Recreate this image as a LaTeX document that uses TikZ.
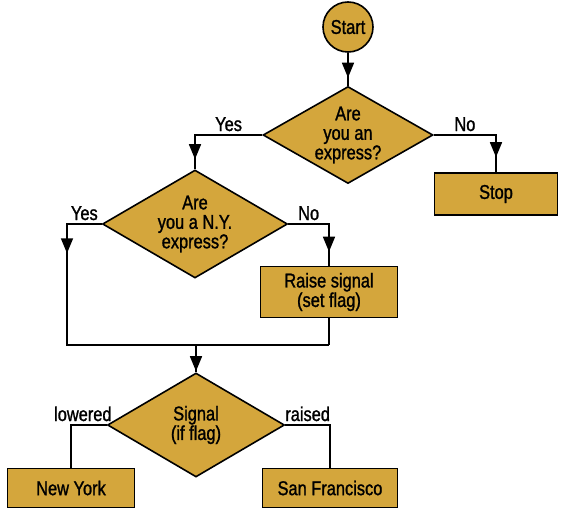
\documentclass[tikz,border=0pt]{standalone}
\usepackage{fontspec}
\setmainfont{Liberation Sans}[FakeStretch=0.82, FakeBold=1.2]
\usetikzlibrary{arrows.meta}
\usetikzlibrary{decorations.markings}
\usetikzlibrary{shapes.geometric}
\definecolor{mgold}{RGB}{212, 166, 60}
\tikzset{box/.style = {draw, fill=mgold, line width=1.6pt, inner sep=0, align=center,
    font=\fontsize{20}{19.5}\selectfont}}
\tikzset{decision/.style = {box, diamond, aspect=1.75}}
\tikzset{flow/.style = {line width=1.6pt}}
\tikzset{arrowat/.style = {postaction={decorate, decoration={markings,
    mark=at position #1 with {\arrow{Triangle[length=15pt, width=12pt]}}}}}}
\tikzset{lbl/.style = {above, inner sep=3pt, font=\fontsize{20}{19.5}\selectfont}}

\begin{document}
\begin{tikzpicture}[x=1pt, y=-1pt]
      \useasboundingbox (0, 0) rectangle (563, 508);

      \node [box, circle, minimum size=50pt] (start) at (348, 27) {Start};
      \node [decision, minimum width=170pt, minimum height=97pt] (express) at (348, 135) {Are\\you an\\express?};
      \node [box, minimum width=123pt, minimum height=42pt] (stop) at (496, 194) {Stop};
      \node [decision, minimum width=185pt, minimum height=108pt] (nyexpress) at (195, 224) {Are\\you a N.Y.\\express?};
      \node [box, minimum width=137pt, minimum height=51pt] (raise) at (329, 292) {Raise signal\\(set flag)};
      \node [decision, minimum width=177pt, minimum height=104pt] (signal) at (196, 425) {Signal\\(if flag)};
      \node [box, minimum width=127pt, minimum height=39pt] (newyork) at (71, 488) {New York};
      \node [box, minimum width=135pt, minimum height=39pt] (sanfran) at (330, 488) {San Francisco};

      \coordinate (mergeL) at (67, 345);
      \coordinate (mergeR) at (raise.south |- mergeL);
      \coordinate (merge) at (signal.north |- mergeL);

      \draw [flow, arrowat=-8pt] (start.south) -- (express.north);
      \draw [flow, arrowat=-15pt] (express.east) -| node [lbl, pos=0.25] {No} (stop.north);
      \draw [flow, arrowat=-10pt] (express.west) -| node [lbl, pos=0.25] {Yes} (nyexpress.north);

      \draw [flow, arrowat=64pt] (nyexpress.west) -| node [lbl, pos=0.25] {Yes} (mergeL) -- (mergeR);
      \draw [flow, arrowat=-14pt] (nyexpress.east) -| node [lbl, pos=0.25] {No} (raise.north);
      \draw [flow] (raise.south) -- (mergeR);
      \draw [flow, arrowat=-1pt] (merge) -- (signal.north);

      \draw [flow] (signal.west) -| node [lbl, pos=0.25, xshift=-6pt] {lowered} (newyork.north);
      \draw [flow] (signal.east) -| node [lbl, pos=0.25] {raised} (sanfran.north);
    \end{tikzpicture}
\end{document}
